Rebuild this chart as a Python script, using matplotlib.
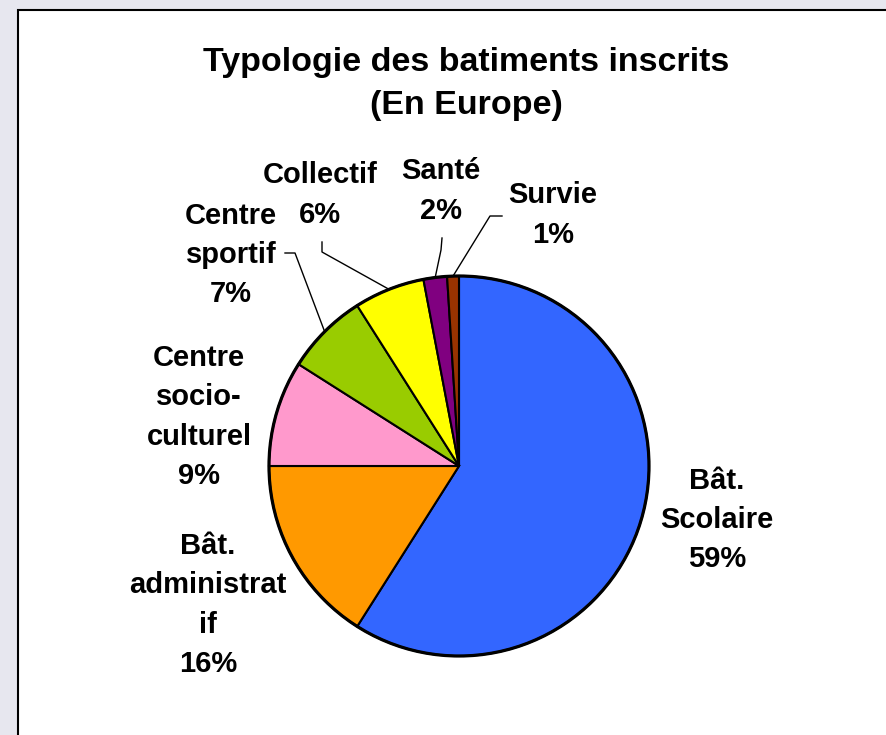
import matplotlib.pyplot as plt
import matplotlib.patches as mpatches
import numpy as np

# data
categories = ['Bât.\nScolaire', 'Bât.\nadministrat\nif', 'Centre\nsocio-\nculturel',
              'Centre\nsportif', 'Collectif', 'Santé', 'Survie']
shares = [59, 16, 9, 7, 6, 2, 1]
colors = ['#3366FF', '#FF9900', '#FF99CC', '#99CC00', '#FFFF00', '#800080', '#993300']

# layout (pixels from top-left of the 886x735 image)
W, H = 886, 735
center_px = (459, 466)
radius_px = 190
label_pos = [(717, 520), (208, 605), (199, 417), (231, 255), (320, 195), (441, 191), (553, 215)]
# leader line elbows (label side), None = no leader
leaders = [None, None, None,
           [(295, 253), (285, 253)],
           [(322, 252), (322, 242)],
           [(441, 250), (442, 238)],
           [(490, 216), (502, 216)]]

plt.rcParams['font.family'] = ['Liberation Sans', 'DejaVu Sans']

fig = plt.figure(figsize=(W / 100, H / 100), dpi=100)
fig.patch.set_facecolor('#e7e7ef')
ax = fig.add_axes([0, 0, 1, 1])

def py(y):
    return H - y

# white chart area with a black frame
ax.add_patch(mpatches.Rectangle((18, -20), W + 20, py(10) + 20, facecolor='white',
                                edgecolor='black', linewidth=1.5, zorder=0))

pie_center = (center_px[0], py(center_px[1]))
wedges, _ = ax.pie(shares, colors=colors, startangle=90, counterclock=False,
                   center=pie_center, radius=radius_px,
                   wedgeprops=dict(edgecolor='black', linewidth=1.5))
# thicker outline around the pie
ax.add_patch(mpatches.Circle(pie_center, radius_px, fill=False, edgecolor='black',
                             linewidth=2.3, zorder=4))

ax.set_xlim(0, W)
ax.set_ylim(0, H)
ax.set_aspect('equal')
ax.axis('off')

for i, (w, cat, val) in enumerate(zip(wedges, categories, shares)):
    lx, ly = label_pos[i]
    ax.text(lx, py(ly), f'{cat}\n{val}%', ha='center', va='center',
            fontsize=21, fontweight='bold', linespacing=1.51)
    if leaders[i] is not None:
        mid = np.radians((w.theta1 + w.theta2) / 2)
        sx = pie_center[0] + radius_px * np.cos(mid)
        sy = pie_center[1] + radius_px * np.sin(mid)
        xs = [sx] + [p[0] for p in leaders[i]]
        ys = [sy] + [py(p[1]) for p in leaders[i]]
        ax.plot(xs, ys, color='black', linewidth=1.0, zorder=5)

ax.text(466, py(84), 'Typologie des batiments inscrits\n(En Europe)', ha='center', va='center',
        fontsize=24.5, fontweight='bold', linespacing=1.52)

fig.savefig('out.png', dpi=100, facecolor=fig.get_facecolor())
